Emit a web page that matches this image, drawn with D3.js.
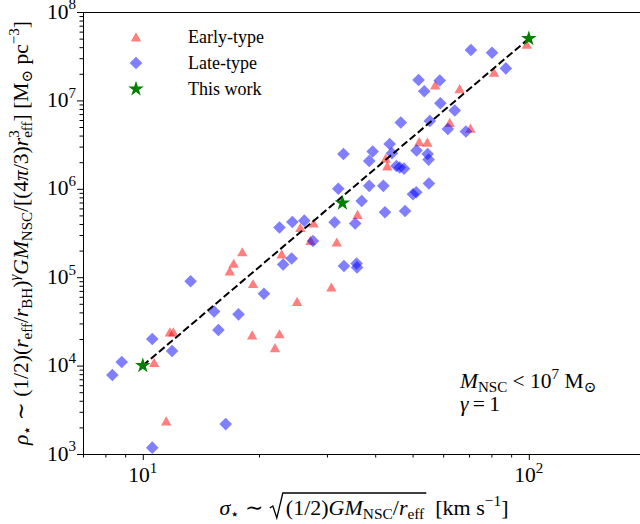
<!DOCTYPE html>
<html>
<head>
<meta charset="utf-8">
<script src="https://cdn.jsdelivr.net/npm/d3@7"></script>
<style>
  body { margin: 0; background: #fff; }
  text { font-family: "Liberation Serif", "DejaVu Serif", serif; fill: #000; }
</style>
</head>
<body>
<svg id="drawing_region"></svg>
<script>
// early-type galaxies (red triangles)
const earlySigma = [10.7, 11.75, 12.0, 11.5, 18.1, 17.2, 16.8, 19.3, 19.2, 22.0, 22.6, 25.1, 22.9, 25.6, 27.7,
                    27.2, 31.8, 30.8, 36.0, 42.6, 43.0, 52.0, 54.6, 57.2, 62.4, 70.6, 66.2, 81.3, 98.8];
const earlyRho = [1.08e4, 2.40e4, 2.40e4, 2.36e3, 1.93e5, 1.43e5, 1.17e5, 8.44e4, 2.22e4, 1.59e4, 2.28e4, 5.31e4, 1.83e5, 3.63e5, 4.08e5,
                  2.59e5, 2.49e5, 7.71e4, 5.12e5, 2.21e6, 1.81e6, 3.40e6, 3.36e6, 1.49e7, 5.62e6, 4.83e6, 1.35e7, 2.07e7, 4.31e7];

// late-type galaxies (blue diamonds)
const lateSigma = [8.34, 8.82, 10.58, 11.91, 10.58, 16.4, 13.3, 15.3, 15.7, 17.7, 20.6, 22.6, 24.4, 26.2, 23.1,
                   24.3, 27.6, 31.4, 35.5, 33.2, 35.8, 35.9, 32.1, 33.1, 38.6, 42.0, 39.4, 38.6, 43.6, 44.2,
                   45.4, 46.3, 47.5, 50.1, 51.1, 55.1, 46.6, 51.2, 54.7, 55.0, 51.8, 53.6, 58.8, 55.4, 59.0,
                   64.3, 61.7, 68.7, 70.8, 80.3, 87.2, 42.4, 47.8, 36.9];
const lateRho = [7.83e3, 1.10e4, 2.0e4, 1.46e4, 1.18e3, 2.18e3, 9.0e4, 4.09e4, 2.53e4, 3.8e4, 6.5e4, 3.65e5, 4.21e5, 4.36e5, 1.39e5,
                 1.63e5, 2.57e5, 4.18e5, 4.05e5, 1.34e5, 1.43e5, 1.29e5, 1.0e6, 2.48e6, 1.08e6, 1.08e6, 2.64e6, 2.06e6, 3.21e6, 2.52e6,
                 1.81e6, 1.74e6, 1.69e6, 8.67e5, 9.13e5, 1.15e6, 5.62e6, 2.71e6, 2.48e6, 2.14e6, 1.70e7, 1.27e7, 1.68e7, 5.85e6, 9.27e6,
                 7.69e6, 4.75e6, 4.45e6, 3.72e7, 3.46e7, 2.30e7, 5.42e5, 5.61e5, 7.28e5];

// this work (green stars) and the dashed relation
const thisSigma = [10, 32.9, 100];
const thisRho = [1.0e4, 6.9e5, 5.0e7];
const fitSigma = [10, 100];
const fitRho = [1.0e4, 5.0e7];

const xMajor = [10, 100];
const xExp = ["1", "2"];
const yMajor = [1e3, 1e4, 1e5, 1e6, 1e7, 1e8];
const yExp = ["3", "4", "5", "6", "7", "8"];
const legendLabels = ["Early-type", "Late-type", "This work"];

const svg = d3.select("#drawing_region").attr("width", 640).attr("height", 524);

const x = d3.scaleLog().domain([7, 200]).range([83, 645]);
const y = d3.scaleLog().domain([1e3, 1e8]).range([454, 12]);

// lays out a list of text pieces (italic / sub / sup) one after another
function lay(g, segs, size) {
  let cx = 0;
  const marks = {};
  segs.forEach(s => {
    if (s.rad) { marks.radStart = cx; cx += s.rad; return; }
    if (s.radEnd) { marks.radEnd = cx; return; }
    const small = s.sub || s.sup;
    const t = g.append("text")
      .attr("x", cx)
      .attr("y", s.sub ? size * 0.2 : s.sup ? -size * 0.42 : 0)
      .attr("font-size", small ? size * 0.7 : size)
      .style("font-style", s.i ? "italic" : "normal")
      .style("white-space", "pre")
      .text(s.t);
    const w = t.node().getComputedTextLength();
    if (!s.stay) cx += w;
  });
  return { width: cx, marks: marks };
}

// minor ticks
const xMinor = [];
[1, 10, 100].forEach(d => [2, 3, 4, 5, 6, 7, 8, 9].forEach(k => {
  const v = d * k; if (v >= 7 && v <= 200 && v !== 10 && v !== 100) xMinor.push(v);
}));
const yMinor = [];
[1e3, 1e4, 1e5, 1e6, 1e7].forEach(d => [2, 3, 4, 5, 6, 7, 8, 9].forEach(k => yMinor.push(d * k)));

const gxMinor = svg.append("g").attr("transform", "translate(0,454)")
  .call(d3.axisBottom(x).tickValues(xMinor).tickSize(3.5).tickFormat("").tickSizeOuter(0));
gxMinor.select(".domain").remove();
const gx = svg.append("g").attr("transform", "translate(0,454)")
  .call(d3.axisBottom(x).tickValues(xMajor).tickSize(6).tickFormat("").tickSizeOuter(0));

const gyMinor = svg.append("g").attr("transform", "translate(83,0)")
  .call(d3.axisLeft(y).tickValues(yMinor).tickSize(3.5).tickFormat("").tickSizeOuter(0));
gyMinor.select(".domain").remove();
const gy = svg.append("g").attr("transform", "translate(83,0)")
  .call(d3.axisLeft(y).tickValues(yMajor).tickSize(6).tickFormat("").tickSizeOuter(0));

svg.selectAll(".domain, .tick line").attr("stroke", "#000").attr("stroke-width", 1);

// top spine (right spine falls outside the picture)
svg.append("line").attr("x1", 83).attr("x2", 645).attr("y1", 12.5).attr("y2", 12.5)
  .attr("stroke", "#000").attr("stroke-width", 1);

// tick labels 10^n
xMajor.forEach((v, i) => {
  const g = svg.append("g");
  const r = lay(g, [{ t: "10" }, { t: xExp[i], sup: 1 }], 21.5);
  g.attr("transform", `translate(${x(v) - r.width / 2},482)`);
});
yMajor.forEach((v, i) => {
  const g = svg.append("g");
  const r = lay(g, [{ t: "10" }, { t: yExp[i], sup: 1 }], 21.5);
  g.attr("transform", `translate(${76 - r.width},${y(v) + 6.5})`);
});

// markers
const triPath = "M0,-4.8L5.2,4.4L-5.2,4.4Z";
const diaPath = "M0,-6.3L6.3,0L0,6.3L-6.3,0Z";
const starPath = d3.symbol(d3.symbolStar, 75)();

svg.append("g").selectAll("path")
  .data(earlySigma.map((s, i) => [s, earlyRho[i]]))
  .join("path")
  .attr("d", triPath)
  .attr("transform", d => `translate(${x(d[0])},${y(d[1])})`)
  .attr("fill", "red").attr("fill-opacity", 0.5);

svg.append("g").selectAll("path")
  .data(lateSigma.map((s, i) => [s, lateRho[i]]))
  .join("path")
  .attr("d", diaPath)
  .attr("transform", d => `translate(${x(d[0])},${y(d[1])})`)
  .attr("fill", "blue").attr("fill-opacity", 0.5);

const line = d3.line().x(d => x(d[0])).y(d => y(d[1]));
svg.append("path")
  .datum(fitSigma.map((s, i) => [s, fitRho[i]]))
  .attr("d", line)
  .attr("fill", "none").attr("stroke", "#000")
  .attr("stroke-width", 2).attr("stroke-dasharray", "7.4,3.2");

svg.append("g").selectAll("path")
  .data(thisSigma.map((s, i) => [s, thisRho[i]]))
  .join("path")
  .attr("d", starPath)
  .attr("transform", d => `translate(${x(d[0])},${y(d[1])})`)
  .attr("fill", "green");

// legend
const legendShapes = [
  { d: triPath, fill: "red", op: 0.5 },
  { d: diaPath, fill: "blue", op: 0.5 },
  { d: starPath, fill: "green", op: 1 }
];
const legend = svg.append("g").attr("transform", "translate(136,37)");
legendLabels.forEach((lab, i) => {
  legend.append("path").attr("d", legendShapes[i].d)
    .attr("transform", `translate(0,${i * 26})`)
    .attr("fill", legendShapes[i].fill).attr("fill-opacity", legendShapes[i].op);
  legend.append("text").attr("x", 52).attr("y", i * 26 + 5.5)
    .attr("font-size", 18).text(lab);
});

// annotation
const ann1 = svg.append("g").attr("transform", "translate(460,388)");
lay(ann1, [{ t: "M", i: 1 }, { t: "NSC", sub: 1 }, { t: " < 10" }, { t: "7", sup: 1 }, { t: " M" }, { t: "⊙", sub: 1 }], 21.5);
const ann2 = svg.append("g").attr("transform", "translate(460,411)");
lay(ann2, [{ t: "γ", i: 1 }, { t: "\u2009=\u20091" }], 21.5);

// x label with a drawn radical
const xl = svg.append("g");
const xr = lay(xl, [
  { t: "σ", i: 1 }, { t: "⋆", sub: 1 }, { t: " ∼ " }, { rad: 17 },
  { t: "(1/2)" }, { t: "GM", i: 1 }, { t: "NSC", sub: 1 }, { t: "/" }, { t: "r", i: 1 }, { t: "eff", sub: 1 },
  { radEnd: 1 }, { t: "  [km s" }, { t: "−1", sup: 1 }, { t: "]" }
], 22);
const rs = xr.marks.radStart, re = xr.marks.radEnd;
xl.append("path")
  .attr("d", `M${rs + 1},-7L${rs + 4},-9L${rs + 8},3L${rs + 14},-22L${re + 2},-22`)
  .attr("fill", "none").attr("stroke", "#000").attr("stroke-width", 1.3);
xl.attr("transform", `translate(${364 - xr.width / 2},515)`);

// y label, rotated
const yl = svg.append("g");
const yr = lay(yl, [
  { t: "ρ", i: 1 }, { t: "⋆", sub: 1 }, { t: " ∼ " }, { t: "(1/2)(" }, { t: "r", i: 1 }, { t: "eff", sub: 1 },
  { t: "/" }, { t: "r", i: 1 }, { t: "BH", sub: 1 }, { t: ")" }, { t: "γ", i: 1, sup: 1 },
  { t: "GM", i: 1 }, { t: "NSC", sub: 1 }, { t: "/[(4" }, { t: "π", i: 1 }, { t: "/3)" },
  { t: "r", i: 1 }, { t: "3", sup: 1, stay: 1 }, { t: "eff", sub: 1 }, { t: "] [M" }, { t: "⊙", sub: 1 },
  { t: " pc" }, { t: "−3", sup: 1 }, { t: "]" }
], 21.5);
yl.attr("transform", `translate(28,233) rotate(-90) translate(${-yr.width / 2},0)`);
</script>
</body>
</html>
